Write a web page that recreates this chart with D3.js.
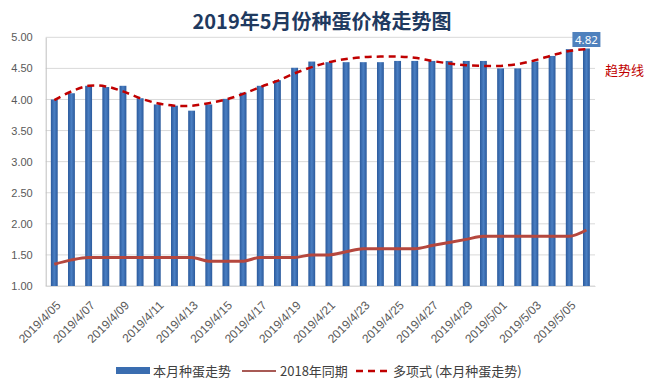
<!DOCTYPE html>
<html>
<head>
<meta charset="utf-8">
<script src="https://cdn.jsdelivr.net/npm/d3@7"></script>
<style>
  body { margin: 0; background: #fff; }
  svg { display: block; font-family: "Noto Sans", "Noto Sans CJK SC", sans-serif; }
</style>
</head>
<body>
<div id="chart"></div>
<script>
var dates = ["2019/4/05", "2019/4/06", "2019/4/07", "2019/4/08", "2019/4/09", "2019/4/10", "2019/4/11", "2019/4/12",
    "2019/4/13", "2019/4/14", "2019/4/15", "2019/4/16", "2019/4/17", "2019/4/18", "2019/4/19", "2019/4/20",
    "2019/4/21", "2019/4/22", "2019/4/23", "2019/4/24", "2019/4/25", "2019/4/26", "2019/4/27", "2019/4/28",
    "2019/4/29", "2019/4/30", "2019/5/01", "2019/5/02", "2019/5/03", "2019/5/04", "2019/5/05", "2019/5/06"];

// 本月种蛋走势
var thisMonth = [4.00, 4.10, 4.22, 4.20, 4.22, 4.02, 3.92, 3.90, 3.82, 3.92, 4.01, 4.11, 4.22, 4.31, 4.51, 4.61,
    4.60, 4.60, 4.60, 4.60, 4.62, 4.62, 4.62, 4.62, 4.62, 4.62, 4.50, 4.50, 4.61, 4.70, 4.81, 4.82];

// 2018年同期
var lastYear = [1.35, 1.42, 1.46, 1.46, 1.46, 1.46, 1.46, 1.46, 1.46, 1.40, 1.40, 1.40, 1.46, 1.46, 1.46, 1.50,
    1.50, 1.55, 1.60, 1.60, 1.60, 1.60, 1.65, 1.70, 1.75, 1.80, 1.80, 1.80, 1.80, 1.80, 1.80, 1.90];

// 多项式趋势线
var trend = [3.99, 4.13, 4.22, 4.21, 4.13, 4.02, 3.94, 3.90, 3.90, 3.94, 4.00, 4.09, 4.20, 4.30, 4.42, 4.52,
    4.60, 4.65, 4.68, 4.69, 4.69, 4.67, 4.62, 4.58, 4.55, 4.54, 4.54, 4.57, 4.63, 4.71, 4.78, 4.81];

var yTicks = [1.00, 1.50, 2.00, 2.50, 3.00, 3.50, 4.00, 4.50, 5.00];

var width = 645, height = 389;
var margin = {left: 45.7, right: 50, top: 37.3, bottom: 103};

var svg = d3.select("#chart").append("svg").attr("width", width).attr("height", height);

var defs = svg.append("defs");
var grad = defs.append("linearGradient").attr("id", "barGrad").attr("x1", "0").attr("x2", "1").attr("y1", "0").attr("y2", "0");
grad.append("stop").attr("offset", "0%").attr("stop-color", "#2b5a9c");
grad.append("stop").attr("offset", "50%").attr("stop-color", "#4a7fc3");
grad.append("stop").attr("offset", "100%").attr("stop-color", "#2b5a9c");

var x = d3.scaleBand().domain(dates).range([margin.left, width - margin.right]).paddingInner(0.6).paddingOuter(0.3);
var y = d3.scaleLinear().domain([1, 5]).range([height - margin.bottom, margin.top]);

// gridlines
svg.append("g").selectAll("line").data(yTicks).enter().append("line")
    .attr("x1", margin.left).attr("x2", width - margin.right)
    .attr("y1", function(d) { return y(d); }).attr("y2", function(d) { return y(d); })
    .attr("stroke", "#d9d9d9").attr("stroke-width", 1);

// y axis
var yAxis = svg.append("g").attr("transform", "translate(" + margin.left + ",0)")
    .call(d3.axisLeft(y).tickValues(yTicks).tickFormat(d3.format(".2f")).tickSize(0).tickPadding(13));
yAxis.select(".domain").attr("stroke", "#bfbfbf");
yAxis.selectAll("text").attr("font-size", 11).attr("fill", "#595959");

// bars
svg.append("g").selectAll("rect").data(thisMonth).enter().append("rect")
    .attr("x", function(d, i) { return x(dates[i]); })
    .attr("width", x.bandwidth())
    .attr("y", function(d) { return y(d); })
    .attr("height", function(d) { return y(1) - y(d); })
    .attr("fill", "url(#barGrad)");

// x axis
var xAxis = svg.append("g").attr("transform", "translate(0," + y(1) + ")")
    .call(d3.axisBottom(x).tickValues(dates.filter(function(d, i) { return i % 2 == 0; })).tickSize(0));
xAxis.select(".domain").attr("stroke", "#d9d9d9");
xAxis.selectAll("text")
    .attr("font-size", 12).attr("fill", "#595959")
    .attr("text-anchor", "end")
    .attr("dy", 0)
    .attr("transform", "translate(5,18) rotate(-45)");

var cx = function(d, i) { return x(dates[i]) + x.bandwidth() / 2; };

// 2018 same period
svg.append("path").datum(lastYear)
    .attr("d", d3.line().x(cx).y(function(d) { return y(d); }).curve(d3.curveMonotoneX))
    .attr("fill", "none").attr("stroke", "#b5473e").attr("stroke-width", 3);

// trend line
svg.append("path").datum(trend)
    .attr("d", d3.line().x(cx).y(function(d) { return y(d); }).curve(d3.curveCatmullRom))
    .attr("fill", "none").attr("stroke", "#c00000").attr("stroke-width", 2.5).attr("stroke-dasharray", "7,5");

// last value label
var last = thisMonth.length - 1;
var lx = cx(thisMonth[last], last);
svg.append("rect").attr("x", lx - 14).attr("y", 32).attr("width", 28).attr("height", 15).attr("fill", "#4f81bd");
svg.append("text").attr("x", lx).attr("y", 43.5).attr("text-anchor", "middle")
    .attr("font-size", 11.5).attr("fill", "#fff").text(d3.format(".2f")(thisMonth[last]));

svg.append("text").attr("x", 605).attr("y", 75).attr("font-size", 13)
    .attr("font-family", "Noto Sans CJK SC").attr("fill", "#c00000").text("趋势线");

// title
svg.append("text").attr("x", 322).attr("y", 29).attr("text-anchor", "middle")
    .attr("font-size", 20).attr("font-weight", "bold").attr("font-family", "Noto Sans CJK SC")
    .attr("fill", "#1f3a60").text("2019年5月份种蛋价格走势图");

// legend
var lg = svg.append("g").attr("font-size", 13).attr("fill", "#404040").attr("font-family", "Noto Sans CJK SC");
lg.append("rect").attr("x", 116).attr("y", 367).attr("width", 34).attr("height", 7).attr("fill", "#3a6db0");
lg.append("text").attr("x", 153).attr("y", 375.5).text("本月种蛋走势");
lg.append("line").attr("x1", 242).attr("x2", 276).attr("y1", 371).attr("y2", 371).attr("stroke", "#a85a55").attr("stroke-width", 2);
lg.append("text").attr("x", 280).attr("y", 375.5).text("2018年同期");
lg.append("line").attr("x1", 356).attr("x2", 390).attr("y1", 371).attr("y2", 371).attr("stroke", "#c00000").attr("stroke-width", 2.5).attr("stroke-dasharray", "7,5");
lg.append("text").attr("x", 393).attr("y", 375.5).text("多项式 (本月种蛋走势)");
</script>
</body>
</html>
